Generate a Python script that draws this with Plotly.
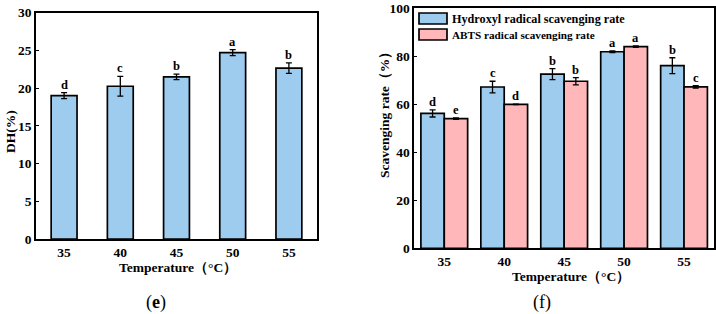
import numpy as np
import plotly.graph_objects as go

# ---- data ----
temps = ["35", "40", "45", "50", "55"]
dh_vals = [19.0, 20.25, 21.5, 24.7, 22.65]
dh_err = [0.4, 1.3, 0.37, 0.4, 0.7]
dh_letters = ["d", "c", "b", "a", "b"]

series_names = ["Hydroxyl radical scavenging rate", "ABTS radical scavenging rate"]
hydroxyl_vals = [56.2, 67.2, 72.6, 81.9, 76.1]
hydroxyl_err = [1.5, 2.4, 2.3, 0.4, 3.3]
hydroxyl_letters = ["d", "c", "b", "a", "b"]
abts_vals = [54.0, 60.0, 69.6, 84.0, 67.3]
abts_err = [0.3, 0.1, 1.5, 0.3, 0.5]
abts_letters = ["e", "d", "b", "a", "c"]

x_title = "Temperature（°C）"
y_title_left = "DH(%)"
y_title_right = "Scavenging rate（%）"

BLUE = "#9ECCEE"
PINK = "#FFB7B9"
FONT = "Liberation Serif"
W, H = 716, 314

xi = np.arange(len(temps))
fig = go.Figure()

# left panel
bw_left = 0.46
fig.add_trace(go.Bar(x=xi, y=dh_vals, width=bw_left, offset=-bw_left / 2,
                     marker=dict(color=BLUE, line=dict(color="black", width=1.7)),
                     error_y=dict(type="data", array=dh_err, color="black", thickness=1.3, width=3),
                     xaxis="x", yaxis="y", showlegend=False))

# right panel
bw = 0.39
fig.add_trace(go.Bar(x=xi, y=hydroxyl_vals, width=bw, offset=-bw, name=series_names[0],
                     marker=dict(color=BLUE, line=dict(color="black", width=1.7)),
                     error_y=dict(type="data", array=hydroxyl_err, color="black", thickness=1.3, width=3),
                     xaxis="x2", yaxis="y2", showlegend=False))
fig.add_trace(go.Bar(x=xi, y=abts_vals, width=bw, offset=0, name=series_names[1],
                     marker=dict(color=PINK, line=dict(color="black", width=1.7)),
                     error_y=dict(type="data", array=abts_err, color="black", thickness=1.3, width=3),
                     xaxis="x2", yaxis="y2", showlegend=False))

ann = []
lfont = dict(family=FONT, size=12.5, color="black")
for i in range(len(temps)):
    ann.append(dict(x=xi[i], y=dh_vals[i] + dh_err[i], xref="x", yref="y", text="<b>%s</b>" % dh_letters[i],
                    showarrow=False, xanchor="center", yanchor="bottom", yshift=-1, font=lfont))
    ann.append(dict(x=xi[i] - bw / 2, y=hydroxyl_vals[i] + hydroxyl_err[i], xref="x2", yref="y2",
                    text="<b>%s</b>" % hydroxyl_letters[i], showarrow=False, xanchor="center",
                    yanchor="bottom", yshift=-1, font=lfont))
    ann.append(dict(x=xi[i] + bw / 2, y=abts_vals[i] + abts_err[i], xref="x2", yref="y2",
                    text="<b>%s</b>" % abts_letters[i], showarrow=False, xanchor="center",
                    yanchor="bottom", yshift=-1, font=lfont))

# legend (manual, to get wide swatches)
shapes = []
leg_rows = [(13, 24, BLUE, 12.2), (29, 40, PINK, 11.2)]
for (y0, y1, col, fs), name in zip(leg_rows, series_names):
    shapes.append(dict(type="rect", xref="paper", yref="paper",
                       x0=419 / W, x1=447 / W, y0=1 - y1 / H, y1=1 - y0 / H,
                       fillcolor=col, line=dict(color="black", width=1.7)))
    ann.append(dict(x=450 / W, y=1 - (y0 + y1) / 2 / H, xref="paper", yref="paper",
                    text="<b>%s</b>" % name, showarrow=False, xanchor="left", yanchor="middle",
                    font=dict(family=FONT, size=fs, color="black")))


def paper_text(x, y, text, size, angle=0):
    return dict(x=x / W, y=1 - y / H, xref="paper", yref="paper", text=text, showarrow=False,
                xanchor="center", yanchor="middle", textangle=angle,
                font=dict(family=FONT, size=size, color="black"))


# axis titles as annotations for precise placement
ann.append(paper_text(178, 267, "<b>%s</b>" % x_title, 13.5))
ann.append(paper_text(571, 276, "<b>%s</b>" % x_title, 13.5))
ann.append(paper_text(10, 132, "<b>%s</b>" % y_title_left, 13.5, -90))
ann.append(paper_text(385, 112, "<b>%s</b>" % y_title_right, 13.5, -90))

# captions
ann.append(paper_text(156, 302, "(<b>e</b>)", 18))
ann.append(paper_text(542, 302, "(f)", 18))

tickfont = dict(family=FONT, size=13.5, color="black")
axcommon = dict(showline=True, linecolor="black", linewidth=1.8, mirror=True, showgrid=False,
                zeroline=False, automargin=False)

fig.update_layout(
    width=W, height=H, margin=dict(l=0, r=0, t=0, b=0, pad=0),
    paper_bgcolor="white", plot_bgcolor="white", barmode="overlay",
    annotations=ann, shapes=shapes, showlegend=False,
    xaxis=dict(domain=[36 / W, 317 / W], range=[-0.5, 4.5], tickvals=list(xi),
               ticktext=["<b>%s</b>" % t for t in temps], tickfont=tickfont, ticks="", anchor="y", **axcommon),
    yaxis=dict(domain=[1 - 239 / H, 1 - 12.7 / H], range=[0, 30], tickfont=tickfont,
               ticks="inside", ticklen=3, tickwidth=1.2, tickcolor="black",
               tickvals=[0, 5, 10, 15, 20, 25, 30], ticktext=["<b>%d</b>" % v for v in range(0, 31, 5)],
               anchor="x", **axcommon),
    xaxis2=dict(domain=[414.3 / W, 714 / W], range=[-0.5, 4.5], tickvals=list(xi),
                ticktext=["<b>%s</b>" % t for t in temps], tickfont=tickfont, ticks="", anchor="y2", **axcommon),
    yaxis2=dict(domain=[1 - 248.3 / H, 1 - 8.3 / H], range=[0, 100], tickfont=tickfont,
                ticks="inside", ticklen=3, tickwidth=1.2, tickcolor="black",
                tickvals=[0, 20, 40, 60, 80, 100], ticktext=["<b>%d</b>" % v for v in range(0, 101, 20)],
                anchor="x2", **axcommon),
)

fig.write_html("out.html")
